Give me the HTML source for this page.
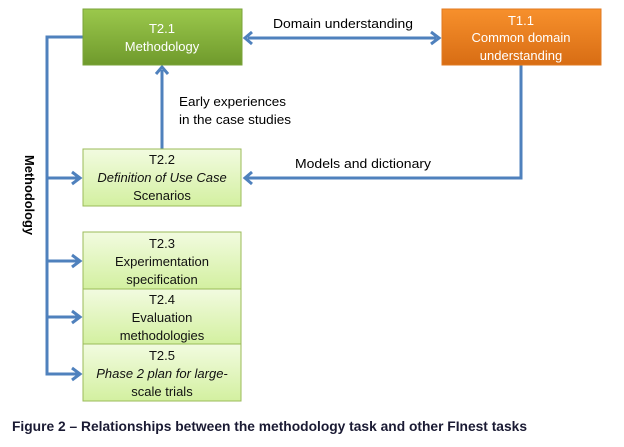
<!DOCTYPE html>
<html><head><meta charset="utf-8"><style>
html,body{margin:0;padding:0;background:#fff;}
svg{display:block;font-family:"Liberation Sans",sans-serif;}
</style></head><body>
<svg width="624" height="447" viewBox="0 0 624 447" xmlns="http://www.w3.org/2000/svg">
<defs>
<linearGradient id="g1" x1="0" y1="0" x2="0" y2="1"><stop offset="0" stop-color="#9bc84c"/><stop offset="1" stop-color="#6f9a2c"/></linearGradient>
<linearGradient id="o1" x1="0" y1="0" x2="0" y2="1"><stop offset="0" stop-color="#f7902c"/><stop offset="1" stop-color="#d86d14"/></linearGradient>
<linearGradient id="l1" x1="0" y1="0" x2="0" y2="1"><stop offset="0" stop-color="#f2fbe0"/><stop offset="1" stop-color="#d3f0a0"/></linearGradient>
</defs>
<g stroke="#4f81bd" stroke-width="3" fill="none">
<polyline points="83,37 47,37 47,374 78,374"/>
<line x1="47" y1="178" x2="78" y2="178"/>
<line x1="47" y1="261" x2="78" y2="261"/>
<line x1="47" y1="317" x2="78" y2="317"/>
<line x1="162" y1="149" x2="162" y2="70"/>
<line x1="248" y1="38" x2="436" y2="38"/>
<polyline points="521,65 521,178 247,178"/>
<polyline points="72,172 80,178 72,184"/>
<polyline points="72,255 80,261 72,267"/>
<polyline points="72,311 80,317 72,323"/>
<polyline points="72,368 80,374 72,380"/>
<polyline points="156,74 162,67 168,74"/>
<polyline points="252,32 245,38 252,44"/>
<polyline points="431,32 439,38 431,44"/>
<polyline points="252,172 245,178 252,184"/>
</g>
<rect x="83" y="9" width="159" height="56" fill="url(#g1)" stroke="#7aa33a"/>
<rect x="442" y="9" width="159" height="56" fill="url(#o1)" stroke="#e07a20"/>
<rect x="83" y="149" width="158" height="57" fill="url(#l1)" stroke="#9bbb59"/>
<rect x="83" y="232" width="158" height="57" fill="url(#l1)" stroke="#9bbb59"/>
<rect x="83" y="289" width="158" height="55" fill="url(#l1)" stroke="#9bbb59"/>
<rect x="83" y="344" width="158" height="57" fill="url(#l1)" stroke="#9bbb59"/>
<g font-size="13" text-anchor="middle" fill="#fff">
<text x="162" y="33">T2.1</text><text x="162" y="51">Methodology</text>
<text x="521" y="25">T1.1</text><text x="521" y="42">Common domain</text><text x="521" y="60">understanding</text>
</g>
<g font-size="13" text-anchor="middle" fill="#111">
<text x="162" y="164">T2.2</text><text x="162" y="182" font-style="italic">Definition of Use Case</text><text x="162" y="200">Scenarios</text>
<text x="162" y="248">T2.3</text><text x="162" y="266">Experimentation</text><text x="162" y="284">specification</text>
<text x="162" y="304">T2.4</text><text x="162" y="322">Evaluation</text><text x="162" y="340">methodologies</text>
<text x="162" y="360">T2.5</text><text x="162" y="378" font-style="italic">Phase 2 plan for large-</text><text x="162" y="396">scale trials</text>
</g>
<g font-size="13" fill="#000">
<text x="273" y="28" textLength="140" lengthAdjust="spacingAndGlyphs">Domain understanding</text>
<text x="295" y="168" textLength="136" lengthAdjust="spacingAndGlyphs">Models and dictionary</text>
<text x="179" y="106" textLength="107" lengthAdjust="spacingAndGlyphs">Early experiences</text>
<text x="179" y="124" textLength="112" lengthAdjust="spacingAndGlyphs">in the case studies</text>
<text transform="translate(25,155) rotate(90)" font-weight="bold" textLength="80" lengthAdjust="spacingAndGlyphs">Methodology</text>
<text x="12" y="431" font-size="14" font-weight="bold" fill="#1a1a33" textLength="515" lengthAdjust="spacingAndGlyphs">Figure 2 – Relationships between the methodology task and other FInest tasks</text>
</g>
</svg>
</body></html>
